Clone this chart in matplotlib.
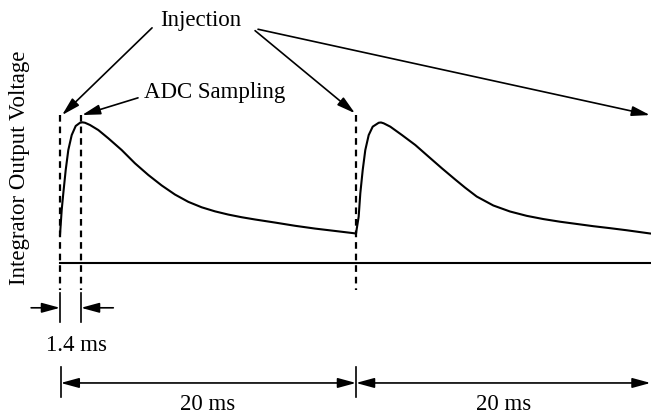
import matplotlib.pyplot as plt

plt.rcParams['font.family'] = ['Liberation Serif', 'DejaVu Serif']

# integrator output (time in ms, voltage in arbitrary units, peak ~ 1)
t1 = [0.0, 0.115, 0.223, 0.385, 0.561, 0.791, 1.061, 1.351, 1.52, 1.689, 2.027,
      2.588, 3.264, 4.169, 5.068, 5.966, 6.872, 7.77, 8.669, 9.574, 10.473,
      11.372, 12.277, 13.176, 14.527, 15.878, 17.23, 18.581, 20.0]
v1 = [0.20, 0.379, 0.498, 0.664, 0.807, 0.914, 0.979, 1.002, 1.005, 1.002, 0.986,
      0.95, 0.891, 0.807, 0.712, 0.629, 0.554, 0.489, 0.437, 0.398, 0.369,
      0.346, 0.327, 0.311, 0.289, 0.266, 0.246, 0.229, 0.211]
t2 = [20.0, 20.18, 20.291, 20.453, 20.628, 20.858, 21.128, 21.534, 21.689, 21.872,
      22.318, 23.108, 24.007, 24.912, 25.811, 26.709, 27.365, 28.155, 29.277,
      30.405, 31.534, 32.655, 33.784, 34.912, 36.034, 37.162, 38.291, 39.865]
v2 = [0.211, 0.331, 0.498, 0.664, 0.807, 0.914, 0.974, 1.002, 1.004, 0.998,
      0.974, 0.914, 0.843, 0.759, 0.676, 0.596, 0.539, 0.475, 0.411,
      0.368, 0.337, 0.314, 0.295, 0.279, 0.263, 0.249, 0.234, 0.211]

injection_times = [0.0, 20.0, 39.9]
sampling_time = 1.42
period = 20.0
baseline_end = 40.0

fig = plt.figure(figsize=(6.51, 4.16), dpi=100)
ax = fig.add_axes([0, 0, 1, 1])
ax.set_xlim(-4.054, 39.932)
ax.set_ylim(-1.093, 1.879)
ax.axis('off')

fs = 16.5
lw = 1.5
k = 'black'

# curve and zero line
ax.plot(t1, v1, color=k, lw=lw, solid_joinstyle='round')
ax.plot(t2, v2, color=k, lw=lw, solid_joinstyle='round')
ax.plot([0, baseline_end], [0, 0], color=k, lw=lw)

# dashed markers
for t in [injection_times[0], sampling_time, injection_times[1]]:
    ax.plot([t, t], [1.057, -0.19], color=k, lw=1.6, ls=(0, (3.0, 2.2)))

# 1.4 ms dimension
for t in [injection_times[0], sampling_time]:
    ax.plot([t, t], [-0.214, -0.421], color=k, lw=1.2)
head = dict(arrowstyle='-|>,head_length=1.1,head_width=0.3', color=k, lw=1.2,
            mutation_scale=10, shrinkA=0, shrinkB=0)
ax.annotate('', xy=(injection_times[0], -0.32), xytext=(-1.95, -0.32), arrowprops=head)
ax.annotate('', xy=(sampling_time, -0.32), xytext=(3.6, -0.32), arrowprops=head)
ax.text(1.13, -0.586, '1.4 ms', fontsize=fs, ha='center', va='center')

# 20 ms dimensions
for t in [0.05, period]:
    ax.plot([t, t], [-0.743, -0.957], color=k, lw=1.2)
dbl = dict(arrowstyle='<|-|>,head_length=1.1,head_width=0.3', color=k, lw=1.2,
           mutation_scale=10, shrinkA=0, shrinkB=0)
ax.annotate('', xy=(period, -0.857), xytext=(0.05, -0.857), arrowprops=dbl)
ax.annotate('', xy=(39.9, -0.857), xytext=(period, -0.857), arrowprops=dbl)
ax.text(10.0, -1.014, '20 ms', fontsize=fs, ha='center', va='center')
ax.text(30.0, -1.014, '20 ms', fontsize=fs, ha='center', va='center')

# labels with pointers
ax.text(9.53, 1.736, 'Injection', fontsize=fs, ha='center', va='center')
ax.annotate('', xy=(0.14, 1.057), xytext=(6.22, 1.68), arrowprops=head)
ax.annotate('', xy=(19.93, 1.07), xytext=(13.18, 1.66), arrowprops=head)
ax.annotate('', xy=(39.86, 1.057), xytext=(13.38, 1.67), arrowprops=head)

ax.text(10.47, 1.22, 'ADC Sampling', fontsize=fs, ha='center', va='center')
ax.annotate('', xy=(1.49, 1.057), xytext=(5.27, 1.18), arrowprops=head)

ax.text(-2.77, 0.68, 'Integrator Output Voltage', fontsize=fs, rotation=90,
        ha='center', va='center')

fig.savefig('out.png', dpi=100)
